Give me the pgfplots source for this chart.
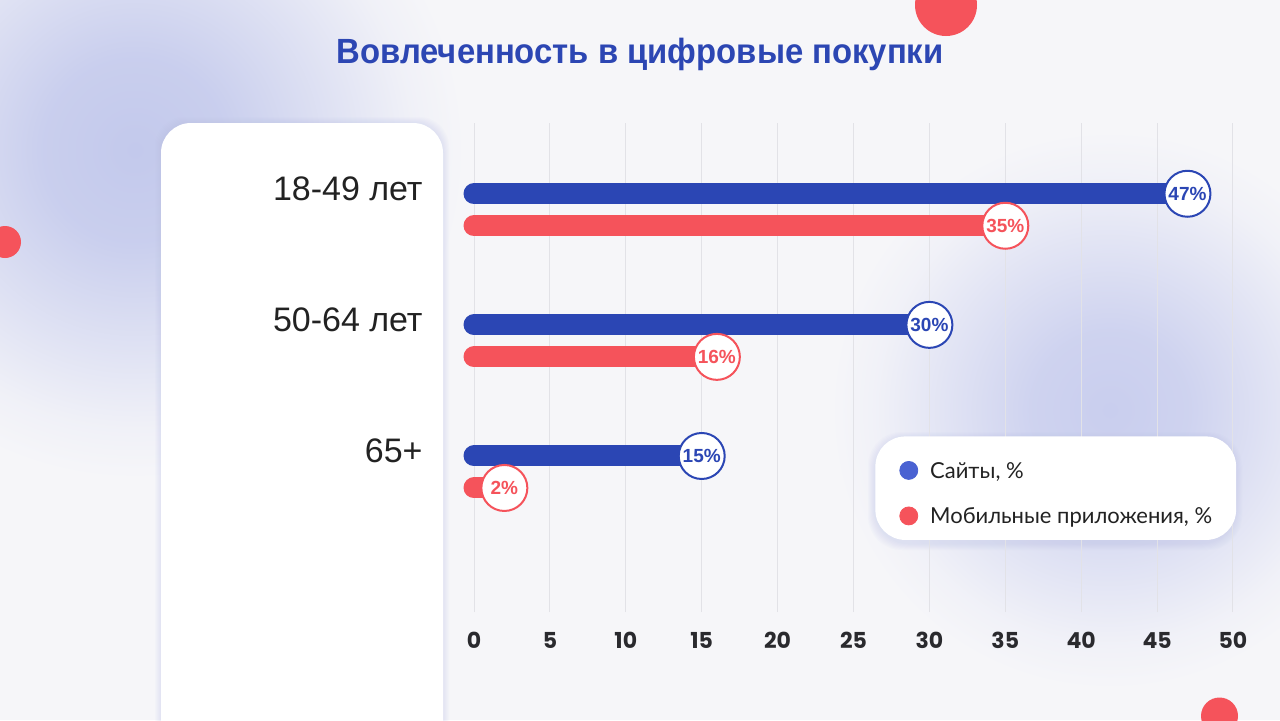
\documentclass[border=0pt]{standalone}
\usepackage{pgfplots}
\pgfplotsset{compat=1.18}
\usepackage{graphicx}
\usepackage{fontspec}
\setmainfont{Liberation Sans}
\newfontfamily\tickfont{Poppins}
\newfontfamily\legfont{Lato}

\definecolor{bgc}{HTML}{F6F6F9}
\definecolor{blobc}{HTML}{C3C9EC}
\definecolor{blobd}{HTML}{C9CEEE}
\definecolor{barblue}{HTML}{2B46B4}
\definecolor{barred}{HTML}{F5535B}
\definecolor{legblue}{HTML}{4A62D2}
\definecolor{titlec}{HTML}{2C46B3}
\definecolor{textc}{HTML}{222222}
\definecolor{tickc}{HTML}{2A2A2E}
\definecolor{gridc}{HTML}{E2E2E7}
\definecolor{shadc}{HTML}{B8BFE6}

\pgfdeclareradialshading{blobA}{\pgfpointorigin}{color(0bp)=(blobc); color(7bp)=(blobc!88!bgc); color(15bp)=(blobc!45!bgc); color(21bp)=(blobc!12!bgc); color(25bp)=(bgc); color(50bp)=(bgc)}
\pgfdeclareradialshading{blobB}{\pgfpointorigin}{color(0bp)=(blobd); color(7bp)=(blobd!88!bgc); color(15bp)=(blobd!45!bgc); color(21bp)=(blobd!12!bgc); color(25bp)=(bgc); color(50bp)=(bgc)}

\pgfplotstableread{
y v
0.122 47
-0.878 30
-1.878 15
}\sites
\pgfplotstableread{
y v
-0.122 35
-1.122 16
-2.122 2
}\apps

\begin{document}
\begin{tikzpicture}
\begin{scope}[x=0.5pt,y=-0.5pt,yshift=360pt]
\fill[bgc] (0,0) rectangle (1280,720);
\shade[shading=blobA] (135,150) circle (330);
\shade[shading=blobB] (1110,410) circle (280);
\fill[barred] (946,5) circle (31);
\fill[barred] (5,242) circle (16);
\fill[barred] (1219.5,716) circle (18.5);
% panel shadow
\foreach \i in {1,...,6}{
  \fill[shadc, opacity=0.05, rounded corners=15pt] (161-\i,123-\i) rectangle (443+\i,780);
}
\fill[white, rounded corners=15pt] (161,123) rectangle (443,780);
% legend shadow
\foreach \i in {1,...,7}{
  \fill[shadc, opacity=0.05, rounded corners=17pt] (875-\i,436-\i+3) rectangle (1235+\i,540+\i+3);
}
\node[anchor=base, text=titlec, font=\bfseries\fontsize{17.5pt}{20pt}\selectfont, inner sep=0pt] at (640,63) {\resizebox{303.5pt}{\height}{Вовлеченность в цифровые покупки}};
\end{scope}

\begin{axis}[
  at={(237pt,54pt)}, anchor=south west,
  scale only axis, width=379.5pt, height=244.5pt,
  xmin=0, xmax=50, ymin=-3.068, ymax=0.6617,
  axis line style={draw=none}, tick style={draw=none},
  xtick={0,5,...,50},
  xmajorgrids, grid style={draw=gridc, line width=0.5pt},
  ytick={0.07,-0.93,-1.925},
  yticklabels={18-49 лет, 50-64 лет, 65+},
  yticklabel style={anchor=base east, inner sep=0pt, xshift=-25.5pt, font=\fontsize{17pt}{20pt}\selectfont, text=textc},
  xticklabel style={anchor=base, inner sep=0pt, yshift=-18pt, font=\tickfont\bfseries\fontsize{11pt}{13pt}\selectfont, text=tickc},
  /pgf/number format/assume math mode=true,
  legend style={at={(0.5283,0.3599)}, anchor=north west, fill=white, draw=none, rounded corners=15pt,
    inner xsep=12pt, inner ysep=4pt, font=\legfont\fontsize{11pt}{13pt}\selectfont, text=textc,
    row sep=1.75pt, nodes={inner sep=0pt, text height=17pt, text depth=4pt},
    /tikz/every odd column/.append style={column sep=6pt}},
  legend cell align=left,
  clip=false,
]
\addplot[forget plot, xcomb, no marks, draw=barblue, line width=10.5pt, line cap=round,
  point meta=x, nodes near coords={\pgfmathprintnumber\pgfplotspointmeta\%},
  every node near coord/.append style={circle, draw=barblue, fill=white, line width=1pt,
    minimum size=23pt, inner sep=0pt, anchor=center, text=barblue,
    font=\bfseries\fontsize{9.5pt}{10pt}\selectfont}]
  table[x=v, y=y] {\sites};
\addplot[forget plot, xcomb, no marks, draw=barred, line width=10.5pt, line cap=round,
  point meta=x, nodes near coords={\pgfmathprintnumber\pgfplotspointmeta\%},
  every node near coord/.append style={circle, draw=barred, fill=white, line width=1pt,
    minimum size=23pt, inner sep=0pt, anchor=center, text=barred,
    font=\bfseries\fontsize{9.5pt}{10pt}\selectfont}]
  table[x=v, y=y] {\apps};
\addlegendimage{legend image code/.code={\fill[legblue] (0pt,-2.5pt) circle (4.5pt);}}
\addlegendentry{Сайты, \%}
\addlegendimage{legend image code/.code={\fill[barred] (0pt,-2.5pt) circle (4.5pt);}}
\addlegendentry{Мобильные приложения, \%}
\end{axis}
\pgfresetboundingbox
\path[use as bounding box] (0,0) rectangle (640pt,360pt);
\end{tikzpicture}
\end{document}
